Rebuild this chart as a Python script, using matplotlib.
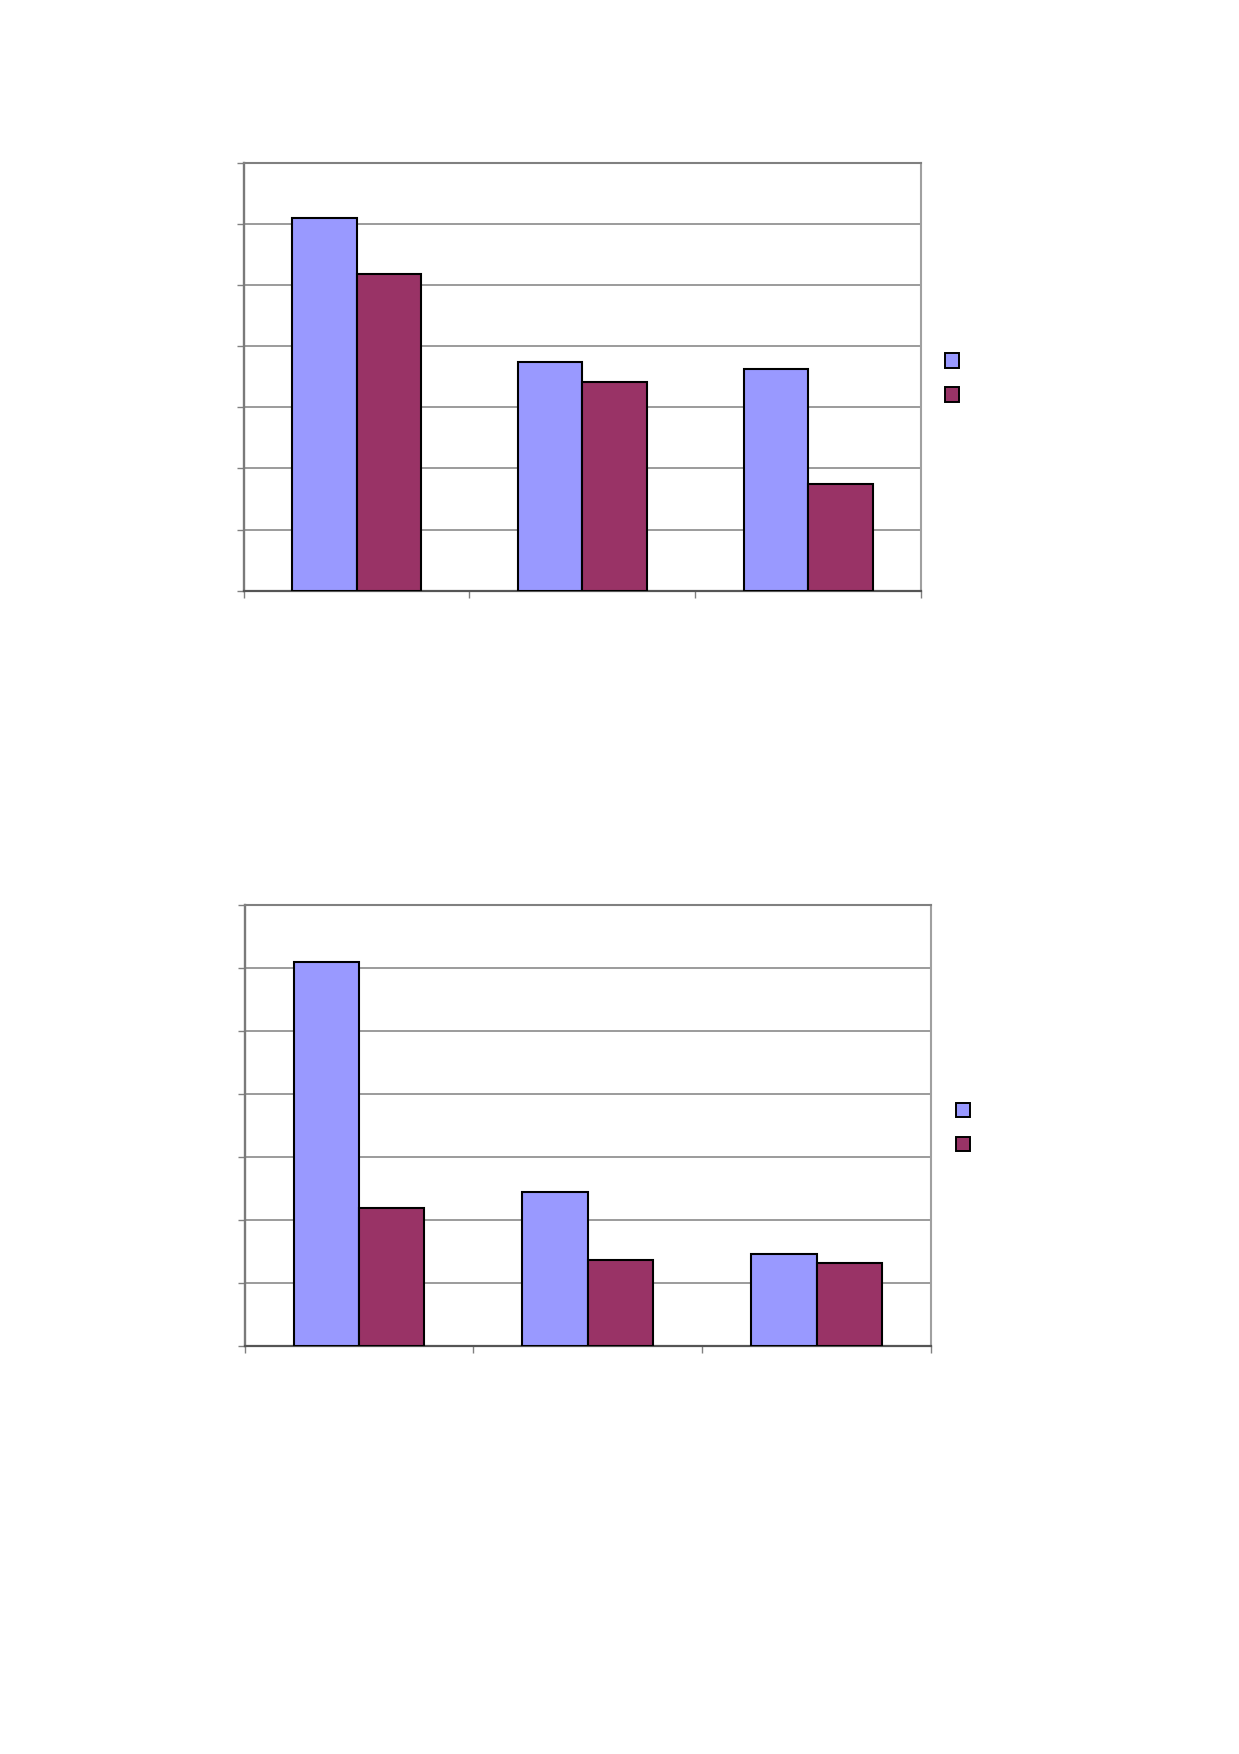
import matplotlib
matplotlib.use("Agg")
import matplotlib.pyplot as plt
from matplotlib.patches import Rectangle
import numpy as np

# ---- data (gridline units, no labels visible) ----
categories = ["", "", ""]
chart1_series_a = [6.09, 3.74, 3.62]
chart1_series_b = [5.18, 3.42, 1.745]
chart2_series_a = [6.10, 2.45, 1.465]
chart2_series_b = [2.195, 1.37, 1.32]
y_ticks = [0, 1, 2, 3, 4, 5, 6, 7]

COLOR_A = "#9999FF"
COLOR_B = "#993366"

W, H = 1239, 1754
fig = plt.figure(figsize=(W / 100, H / 100), dpi=100)
fig.patch.set_facecolor("white")


def px_axes(x0, y0, x1, y1):
    return [x0 / W, 1 - y1 / H, (x1 - x0) / W, (y1 - y0) / H]


def px_rect(x0, y0, x1, y1, color):
    r = Rectangle((x0 / W, 1 - y1 / H), (x1 - x0) / W, (y1 - y0) / H,
                  transform=fig.transFigure, facecolor=color,
                  edgecolor="black", linewidth=1.4)
    fig.patches.append(r)


def draw_chart(rect, a_vals, b_vals):
    ax = fig.add_axes(rect)
    n = len(categories)
    x = np.arange(n)
    bw = 1 / 3.5
    ax.bar(x - bw / 2, a_vals, width=bw, color=COLOR_A, edgecolor="black",
           linewidth=1.5, zorder=3)
    ax.bar(x + bw / 2, b_vals, width=bw, color=COLOR_B, edgecolor="black",
           linewidth=1.5, zorder=3)
    ax.set_xlim(-0.5, n - 0.5)
    ax.set_ylim(y_ticks[0], y_ticks[-1])
    ax.set_yticks(y_ticks)
    ax.set_yticklabels([""] * len(y_ticks))
    ax.set_xticks(np.arange(n + 1) - 0.5)
    ax.set_xticklabels([""] * (n + 1))
    ax.yaxis.grid(True, color="#808080", linewidth=1.1, zorder=0)
    ax.set_axisbelow(True)
    ax.tick_params(axis="y", direction="out", length=5, width=1.0,
                   color="#808080")
    ax.tick_params(axis="x", direction="out", length=5, width=1.0,
                   color="#808080")
    ax.spines["left"].set_color("#7a7a7a")
    ax.spines["left"].set_linewidth(1.7)
    ax.spines["bottom"].set_color("#555555")
    ax.spines["bottom"].set_linewidth(1.6)
    ax.spines["top"].set_color("#808080")
    ax.spines["top"].set_linewidth(1.5)
    ax.spines["right"].set_color("#a0a0a0")
    ax.spines["right"].set_linewidth(1.5)
    ax.set_facecolor("white")
    return ax


draw_chart(px_axes(243.7, 162.7, 921, 590.7), chart1_series_a, chart1_series_b)
draw_chart(px_axes(244.7, 905.3, 931, 1346.3), chart2_series_a, chart2_series_b)

# legend swatches (no text in the reference)
px_rect(945, 353.5, 959, 367.5, COLOR_A)
px_rect(945, 387.5, 959, 401.5, COLOR_B)
px_rect(956, 1102.5, 970, 1116.5, COLOR_A)
px_rect(956, 1136.5, 970, 1150.5, COLOR_B)

fig.savefig("out.png", dpi=100, facecolor="white")
